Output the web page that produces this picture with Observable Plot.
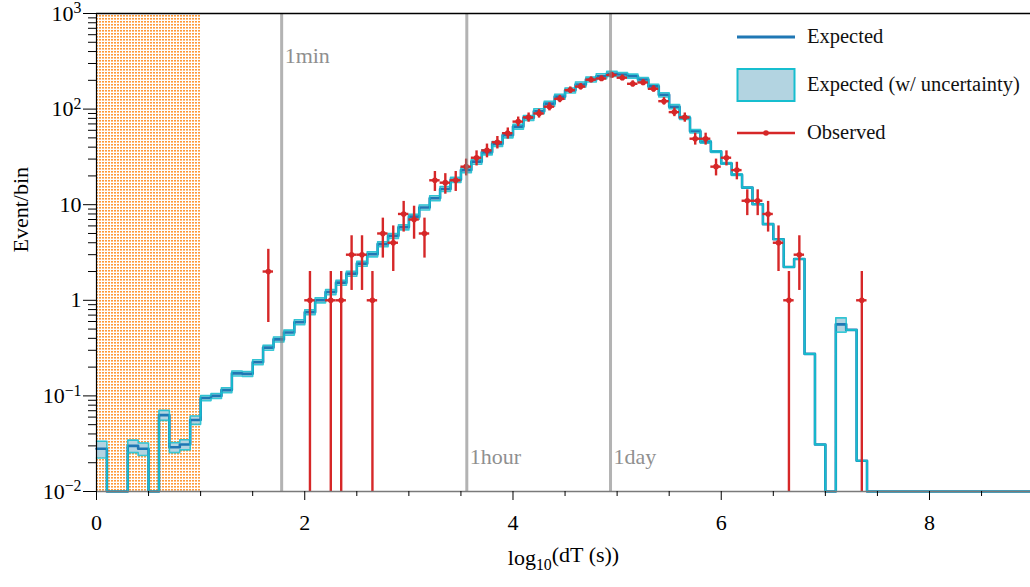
<!DOCTYPE html>
<html><head><meta charset="utf-8">
<script src="https://cdn.jsdelivr.net/npm/d3@7"></script>
<script src="https://cdn.jsdelivr.net/npm/@observablehq/plot@0.6"></script>
<style>
body{margin:0;background:#fff;}
#wrap{position:relative;width:1030px;height:587px;font-family:"Liberation Serif",serif;}
.lg{position:absolute;font-size:20.5px;color:#111;line-height:1;white-space:nowrap;}
.sw{position:absolute;}
</style></head><body><div id="wrap"></div>
<script>
// ---- data ----
const binWidth = 0.1;
// expected events per bin, bins starting at 0.0, 0.1, ... 8.9
const expected = [
  0.028, 0, 0, 0.030, 0.028, 0, 0.063, 0.029, 0.031, 0.056,
  0.095, 0.100, 0.115, 0.172, 0.170, 0.225, 0.32, 0.39, 0.46, 0.59,
  0.75, 1.0, 1.22, 1.53, 1.9, 2.42, 3.03, 3.87, 4.72, 5.8,
  7.5, 9.35, 11.7, 14.6, 18.2, 23, 28.2, 35.3, 43.3, 53.2,
  65.6, 81, 95, 114, 135, 157, 181, 204, 221, 234,
  230, 221, 204, 173, 141, 106, 81, 58.6, 45.4, 36,
  27, 20.6, 15.1, 10.1, 6.26, 4.35, 2.23, 2.7, 0.275, 0.031,
  0, 0.56, 0.49, 0.021, 0, 0, 0, 0, 0, 0,
  0, 0, 0, 0, 0, 0, 0, 0, 0, 0
];
// relative uncertainty of the expectation per bin
const uncertainty = [
  0.2, 0, 0, 0.15, 0.15, 0, 0.12, 0.12, 0.12, 0.1,
  0.06, 0.06, 0.06, 0.06, 0.06, 0.06, 0.06, 0.06, 0.06, 0.06,
  0.06, 0.06, 0.06, 0.06, 0.06, 0.06, 0.06, 0.06, 0.06, 0.06,
  0.06, 0.06, 0.06, 0.06, 0.06, 0.06, 0.06, 0.06, 0.06, 0.06,
  0.06, 0.06, 0.06, 0.06, 0.06, 0.06, 0.06, 0.06, 0.06, 0.06,
  0.05, 0.05, 0.05, 0.05, 0.05, 0.05, 0.04, 0.04, 0.03, 0.02,
  0.02, 0.02, 0.01, 0, 0, 0, 0, 0, 0, 0,
  0, 0.17, 0, 0, 0, 0, 0, 0, 0, 0,
  0, 0, 0, 0, 0, 0, 0, 0, 0, 0
];
const obsBin = [1.65,2.05,2.25,2.35,2.45,2.55,2.65,2.75,2.85,2.95,3.05,3.15,3.25,3.35,3.45,3.55,3.65,3.75,3.85,3.95,
  4.05,4.15,4.25,4.35,4.45,4.55,4.65,4.75,4.85,4.95,5.05,5.15,5.25,5.35,5.45,5.55,5.65,5.75,5.85,5.95,
  6.05,6.15,6.25,6.35,6.45,6.55,6.65,6.75,7.35];
const obsCount = [2,1,1,1,3,3,1,5,4,8,7,5,18,17,18,25,31,37,45,56,
  74,82,90,106,128,158,172,203,209,227,213,184,190,163,121,93,82,49,49,25,
  31,23,11,11,8,4,1,3,1];
const markerLabels = ["1min", "1hour", "1day"];
const markerSeconds = [60, 3600, 86400];
const markerAtTop = [true, false, false];
const maskedRange = [0, 1];
const xMajorTicks = [0, 2, 4, 6, 8];
const xMinorTicks = [0.5, 1, 1.5, 2.5, 3, 3.5, 4.5, 5, 5.5, 6.5, 7, 7.5, 8.5];
const yMajorTicks = [0.01, 0.1, 1, 10, 100, 1000];
const yMinorMultipliers = [2, 3, 4, 5, 6, 7, 8, 9];

// ---- build tables ----
const floor = 0.01;
const steps = expected.map((v, i) => ({
  x: i * binWidth,
  v: Math.max(v, floor),
  lo: Math.max(v * (1 - uncertainty[i]), floor),
  hi: Math.max(v * (1 + uncertainty[i]), floor)
}));
steps.push({...steps[steps.length - 1], x: expected.length * binWidth});
const obs = obsBin.map((x, i) => {
  const n = obsCount[i];
  return {x, n, lo: Math.max(n - Math.sqrt(n), floor), hi: n + Math.sqrt(n), x1: x - binWidth / 2, x2: x + binWidth / 2};
});
const markers = markerLabels.map((label, i) => ({label, x: Math.log10(markerSeconds[i]), top: markerAtTop[i]}));
const yMinorTicks = yMajorTicks.slice(0, -1).flatMap(d => yMinorMultipliers.map(m => d * m));

const fmtY = d => {
  const e = Math.round(Math.log10(d));
  return e === 0 ? "1" : e === 1 ? "10" : "10^" + (e < 0 ? "\u2212" + (-e) : e);
};

const svg = Plot.plot({
  width: 1030, height: 587,
  marginLeft: 96, marginRight: 0, marginTop: 13, marginBottom: 96,
  style: {fontFamily: "'Liberation Serif', serif", fontSize: "22px", background: "#fff", overflow: "hidden"},
  x: {domain: [0, 8.97]},
  y: {type: "log", domain: [0.01, 1000]},
  marks: [
    Plot.rect([maskedRange], {x1: d => d[0], x2: d => d[1], fill: "url(#dots)"}),
    Plot.areaY(steps, {x: "x", y1: "lo", y2: "hi", curve: "step-after", fill: "#b3d4e1"}),
    Plot.line(steps, {x: "x", y: "v", curve: "step-after", stroke: "#1f77b4", strokeWidth: 2.6}),
    Plot.line(steps, {x: "x", y: "lo", curve: "step-after", stroke: "#17becf", strokeWidth: 1.6, strokeOpacity: 0.85}),
    Plot.line(steps, {x: "x", y: "hi", curve: "step-after", stroke: "#17becf", strokeWidth: 1.6, strokeOpacity: 0.85}),
    Plot.ruleX(obs, {x: "x", y1: "lo", y2: "hi", stroke: "#d62728", strokeWidth: 2.4}),
    Plot.ruleY(obs, {y: "n", x1: "x1", x2: "x2", stroke: "#d62728", strokeWidth: 2.4}),
    Plot.dot(obs, {x: "x", y: "n", r: 2.8, fill: "#d62728"}),
    Plot.ruleX(markers, {x: "x", stroke: "#808080", strokeOpacity: 0.6, strokeWidth: 3}),
    Plot.text(markers.filter(d => d.top), {x: "x", text: "label", frameAnchor: "top", lineAnchor: "middle", dy: 42, dx: 3, textAnchor: "start", fill: "#8f8f8f", fontSize: 22}),
    Plot.text(markers.filter(d => !d.top), {x: "x", text: "label", frameAnchor: "bottom", lineAnchor: "middle", dy: -35, dx: 3, textAnchor: "start", fill: "#8f8f8f", fontSize: 22}),
    Plot.ruleX([0], {stroke: "#000", strokeWidth: 1.2}),
    Plot.ruleY([1000], {stroke: "#000", strokeWidth: 1.4}),
    Plot.ruleY([0.01], {stroke: "#7a7a7a", strokeWidth: 1.6}),
    Plot.axisX({ticks: xMajorTicks, tickSize: 9, tickPadding: 14, fontSize: 22, tickFormat: d => String(d), label: null}),
    Plot.axisX({ticks: xMinorTicks, tickSize: 5, tickFormat: () => "", label: null}),
    Plot.axisY({ticks: yMajorTicks, tickSize: 13, tickPadding: 2, fontSize: 22, tickFormat: fmtY, label: null}),
    Plot.axisY({ticks: yMinorTicks, tickSize: 8, tickFormat: () => "", label: null}),
    Plot.text(["Event/bin"], {text: d => d, frameAnchor: "left", dx: -76, rotate: -90, fontSize: 22}),
    Plot.text(["log_10(dT (s))"], {text: d => d, frameAnchor: "bottom", lineAnchor: "middle", dy: 66, fontSize: 22})
  ]
});

// dotted hatch pattern for the masked region
const defs = d3.select(svg).insert("defs", ":first-child");
const pat = defs.append("pattern").attr("id", "dots").attr("width", 3).attr("height", 3).attr("patternUnits", "userSpaceOnUse");
pat.append("rect").attr("width", 3).attr("height", 3).attr("fill", "#fff");
pat.append("rect").attr("width", 2).attr("height", 1.6).attr("fill", "#ff9a3a");

// superscripts / subscripts as real text
svg.querySelectorAll("text").forEach(t => {
  const s = t.textContent;
  if (s.startsWith("10^")) {
    t.textContent = "";
    d3.select(t).append("tspan").text("10");
    d3.select(t).append("tspan").attr("dy", "-0.45em").attr("font-size", "0.72em").text(s.slice(3));
  } else if (s === "log_10(dT (s))") {
    t.textContent = "";
    d3.select(t).append("tspan").text("log");
    d3.select(t).append("tspan").attr("dy", "0.35em").attr("font-size", "0.72em").text("10");
    d3.select(t).append("tspan").attr("dy", "-0.35em").text("(dT (s))");
  }
});

const wrap = document.getElementById("wrap");
wrap.appendChild(svg);

// legend overlay inside the plot area
const legend = [
  {label: "Expected", y: 37, kind: "line"},
  {label: "Expected (w/ uncertainty)", y: 85, kind: "box"},
  {label: "Observed", y: 133, kind: "obs"}
];
legend.forEach(item => {
  const sw = document.createElementNS("http://www.w3.org/2000/svg", "svg");
  sw.setAttribute("class", "sw");
  sw.setAttribute("width", 62); sw.setAttribute("height", 36);
  sw.style.left = "735px"; sw.style.top = (item.y - 18) + "px";
  const g = d3.select(sw);
  if (item.kind === "line") {
    g.append("line").attr("x1", 2).attr("x2", 60).attr("y1", 18).attr("y2", 18).attr("stroke", "#1f77b4").attr("stroke-width", 3);
  } else if (item.kind === "box") {
    g.append("rect").attr("x", 2.5).attr("y", 2).attr("width", 57).attr("height", 32).attr("fill", "#b3d4e1").attr("stroke", "#17becf").attr("stroke-width", 2);
  } else {
    g.append("line").attr("x1", 2).attr("x2", 60).attr("y1", 18).attr("y2", 18).attr("stroke", "#d62728").attr("stroke-width", 2.4);
    g.append("circle").attr("cx", 31).attr("cy", 18).attr("r", 2.8).attr("fill", "#d62728");
  }
  wrap.appendChild(sw);
  const div = document.createElement("div");
  div.className = "lg";
  div.textContent = item.label;
  div.style.left = "807px";
  div.style.top = (item.y - 11) + "px";
  wrap.appendChild(div);
});
</script>
</body></html>
